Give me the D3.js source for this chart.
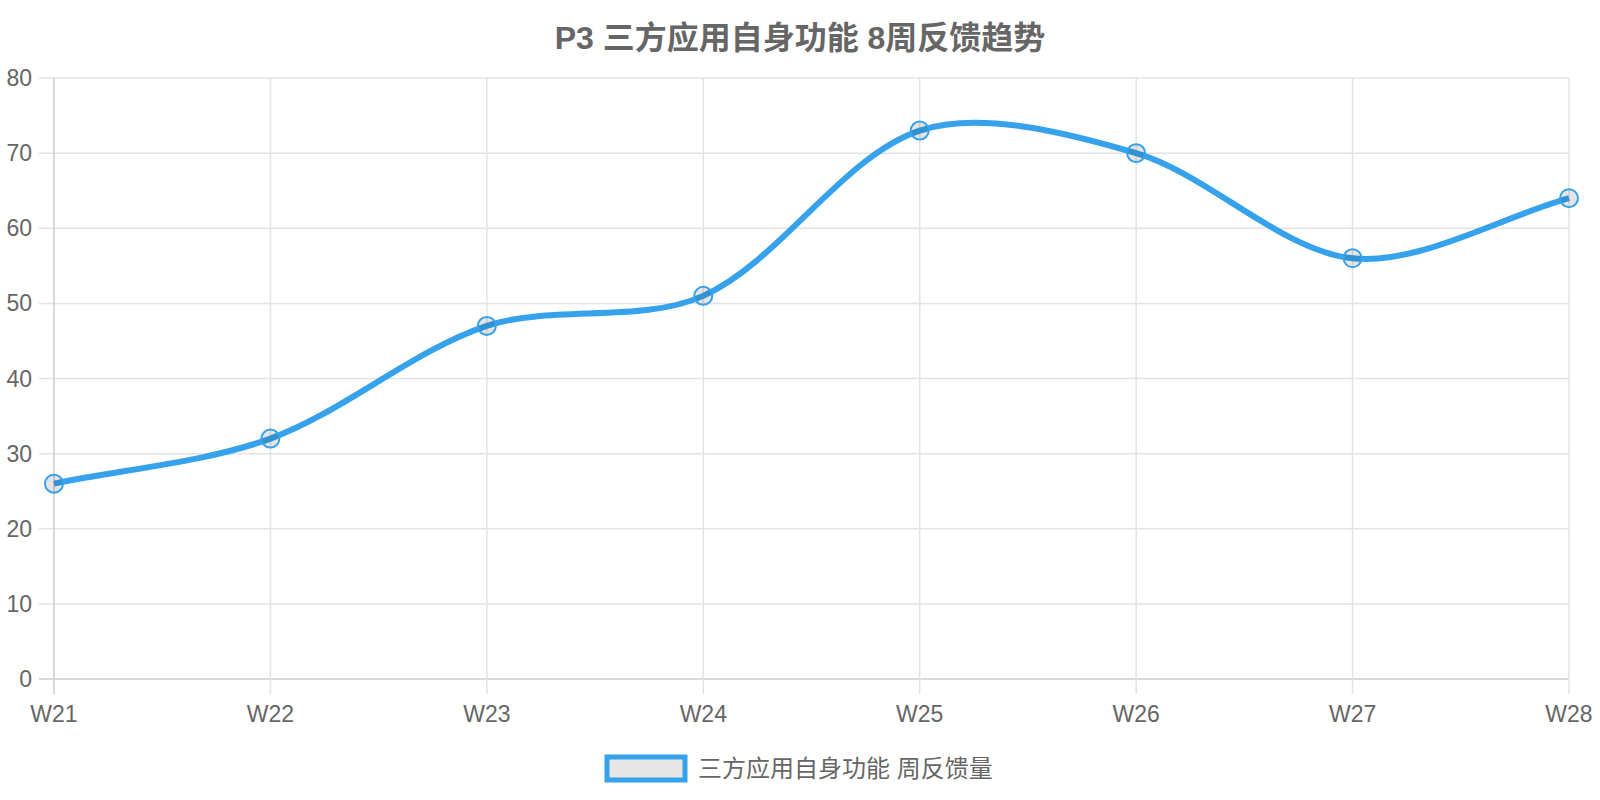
<!DOCTYPE html>
<html><head><meta charset="utf-8">
<script src="https://cdn.jsdelivr.net/npm/d3@7"></script>
<style>
html,body{margin:0;padding:0;background:#fff;}
svg{display:block;font-family:"Liberation Sans",Arial,"Noto Sans CJK SC",sans-serif;}
</style></head>
<body>
<svg id="chart" width="1600" height="800"></svg>
<script>
const categories = ["W21","W22","W23","W24","W25","W26","W27","W28"];
const values = [26, 32, 47, 51, 73, 70, 56, 64];
const yTicks = [0,10,20,30,40,50,60,70,80];
const titleText = "P3 三方应用自身功能 8周反馈趋势";
const seriesName = "三方应用自身功能 周反馈量";

const svg = d3.select("#chart");
const plotLeft = 54, plotRight = 1569, plotTop = 78, plotBottom = 679;
const blue = "#36A2EB";

const x = d3.scalePoint().domain(categories).range([plotLeft, plotRight]);
const y = d3.scaleLinear().domain([0, 80]).range([plotBottom, plotTop]);

// horizontal grid
const gH = svg.append("g");
yTicks.forEach(t => {
  gH.append("line").attr("x1", 39).attr("x2", plotRight)
    .attr("y1", y(t)).attr("y2", y(t))
    .attr("stroke", t === 0 ? "#cccccc" : "#e3e3e3").attr("stroke-width", 1.5);
  gH.append("text").attr("x", 32).attr("y", y(t)).attr("text-anchor", "end")
    .attr("dominant-baseline", "central").attr("fill", "#666").attr("font-size", 23).text(t);
});
// vertical grid
categories.forEach((c, i) => {
  svg.append("line").attr("x1", x(c)).attr("x2", x(c)).attr("y1", plotTop).attr("y2", 694)
    .attr("stroke", i === 0 ? "#cccccc" : "#e3e3e3").attr("stroke-width", 1.5);
  svg.append("text").attr("x", x(c)).attr("y", 714).attr("text-anchor", "middle")
    .attr("dominant-baseline", "central").attr("fill", "#666").attr("font-size", 23).text(c);
});

// Chart.js-style spline
const pts = values.map((v, i) => ({x: x(categories[i]), y: y(v)}));
const tension = 0.32;
pts.forEach((p, i) => {
  const prev = pts[i - 1] || p, next = pts[i + 1] || p;
  const d01 = Math.hypot(p.x - prev.x, p.y - prev.y);
  const d12 = Math.hypot(next.x - p.x, next.y - p.y);
  let s01 = d01 / (d01 + d12), s12 = d12 / (d01 + d12);
  s01 = isNaN(s01) ? 0 : s01; s12 = isNaN(s12) ? 0 : s12;
  const fa = tension * s01, fb = tension * s12;
  p.cp1x = p.x - fa * (next.x - prev.x);
  p.cp1y = p.y - fa * (next.y - prev.y);
  p.cp2x = p.x + fb * (next.x - prev.x);
  p.cp2y = p.y + fb * (next.y - prev.y);
});
const path = d3.path();
path.moveTo(pts[0].x, pts[0].y);
for (let i = 1; i < pts.length; i++) {
  const a = pts[i - 1], b = pts[i];
  path.bezierCurveTo(a.cp2x, a.cp2y, b.cp1x, b.cp1y, b.x, b.y);
}
svg.append("path").attr("d", path.toString()).attr("fill", "none")
  .attr("stroke", blue).attr("stroke-width", 6);

svg.selectAll("circle.pt").data(values).enter().append("circle")
  .attr("class", "pt")
  .attr("cx", (d, i) => x(categories[i])).attr("cy", d => y(d)).attr("r", 9)
  .attr("fill", "rgba(0,0,0,0.1)").attr("stroke", blue).attr("stroke-width", 2);

// title
svg.append("text").attr("x", 800).attr("y", 38).attr("text-anchor", "middle")
  .attr("dominant-baseline", "central").attr("font-size", 32).attr("font-weight", "bold")
  .attr("fill", "#666").text(titleText);

// legend
svg.append("rect").attr("x", 607).attr("y", 757).attr("width", 78).attr("height", 23)
  .attr("fill", "#e6e6e6").attr("stroke", blue).attr("stroke-width", 5);
svg.append("text").attr("x", 698).attr("y", 768).attr("dominant-baseline", "central")
  .attr("font-size", 24).attr("fill", "#666").text(seriesName);
</script>
</body></html>
